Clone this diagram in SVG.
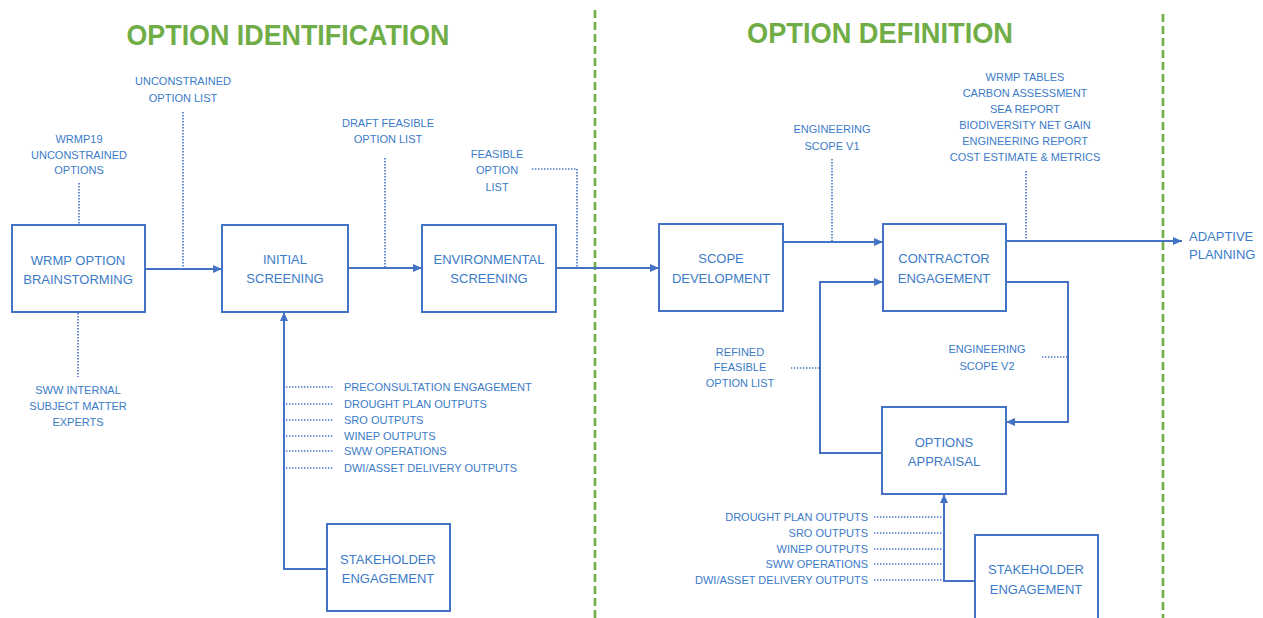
<svg xmlns="http://www.w3.org/2000/svg" width="1263" height="618" viewBox="0 0 1263 618">
  <defs>
    <marker id="arrow" markerUnits="userSpaceOnUse" markerWidth="9" markerHeight="8" refX="9" refY="4" orient="auto">
      <path d="M0,0 L9,4 L0,8 z" fill="#4472c4"/>
    </marker>
  </defs>
  <style>
    .box { fill: #ffffff; stroke: #4472c4; stroke-width: 2; }
    .link { fill: none; stroke: #4472c4; stroke-width: 2; }
    .dot { fill: none; stroke: #4472c4; stroke-width: 1.6; stroke-dasharray: 1.4 1.6; }
    .divider { fill: none; stroke: #70ad47; stroke-width: 2.6; stroke-dasharray: 8 4; }
    .title { font-family: "Liberation Sans", Arial, sans-serif; font-weight: bold; font-size: 30px; fill: #70ad47; text-anchor: middle; }
    .label { font-family: "Liberation Sans", Arial, sans-serif; font-size: 13px; fill: #3b7bc8; text-anchor: middle; }
    .note { font-family: "Liberation Sans", Arial, sans-serif; font-size: 11px; fill: #3b7bc8; text-anchor: middle; }
    .note-l { text-anchor: start; }
    .note-r { text-anchor: end; }
  </style>

  <rect width="1263" height="618" fill="#ffffff"/>

  <!-- phase dividers and headings -->
  <g id="phases">
    <path class="divider" d="M595,10 V618"/>
    <path class="divider" d="M1163,14 V618"/>
    <text class="title" x="288" y="45" textLength="323" lengthAdjust="spacingAndGlyphs">OPTION IDENTIFICATION</text>
    <text class="title" x="880" y="43" textLength="266" lengthAdjust="spacingAndGlyphs">OPTION DEFINITION</text>
  </g>

  <!-- connectors -->
  <g id="connectors">
    <path class="link" d="M145,269 H222" marker-end="url(#arrow)"/>
    <path class="link" d="M348,268 H422" marker-end="url(#arrow)"/>
    <path class="link" d="M556,268 H659" marker-end="url(#arrow)"/>
    <path class="link" d="M783,242 H883" marker-end="url(#arrow)"/>
    <path class="link" d="M1006,241 H1182" marker-end="url(#arrow)"/>
    <path class="link" d="M1006,282 H1068 V422 H1006" marker-end="url(#arrow)"/>
    <path class="link" d="M882,453 H820 V282 H883" marker-end="url(#arrow)"/>
    <path class="link" d="M327,569 H284 V312" marker-end="url(#arrow)"/>
    <path class="link" d="M975,581 H944 V494" marker-end="url(#arrow)"/>

    <!-- dotted information feeds -->
    <path class="dot" d="M79,183 V224"/>
    <path class="dot" d="M78,313 V377"/>
    <path class="dot" d="M183,112 V268"/>
    <path class="dot" d="M385,158 V267"/>
    <path class="dot" d="M532,169 H577 V267"/>
    <path class="dot" d="M832,159 V241"/>
    <path class="dot" d="M1026,171 V240"/>
    <path class="dot" d="M791,368 H819"/>
    <path class="dot" d="M1042,357 H1067"/>
    <path class="dot" d="M286,387 H333 M286,404 H333 M286,420 H333 M286,436 H333 M286,451 H333 M286,468 H333"/>
    <path class="dot" d="M874,517 H943 M874,533 H943 M874,549 H943 M874,564 H943 M874,580 H943"/>
  </g>

  <!-- process nodes -->
  <g id="brainstorming">
    <rect class="box" x="12" y="225" width="133" height="87"/>
    <text class="label" x="78" y="265">WRMP OPTION</text>
    <text class="label" x="78" y="284">BRAINSTORMING</text>
  </g>
  <g id="initial-screening">
    <rect class="box" x="222" y="225" width="126" height="87"/>
    <text class="label" x="285" y="264">INITIAL</text>
    <text class="label" x="285" y="283">SCREENING</text>
  </g>
  <g id="environmental-screening">
    <rect class="box" x="422" y="225" width="134" height="87"/>
    <text class="label" x="489" y="264">ENVIRONMENTAL</text>
    <text class="label" x="489" y="283">SCREENING</text>
  </g>
  <g id="scope-development">
    <rect class="box" x="659" y="224" width="124" height="87"/>
    <text class="label" x="721" y="263">SCOPE</text>
    <text class="label" x="721" y="283">DEVELOPMENT</text>
  </g>
  <g id="contractor-engagement">
    <rect class="box" x="883" y="224" width="123" height="87"/>
    <text class="label" x="944" y="263">CONTRACTOR</text>
    <text class="label" x="944" y="283">ENGAGEMENT</text>
  </g>
  <g id="options-appraisal">
    <rect class="box" x="882" y="407" width="124" height="87"/>
    <text class="label" x="944" y="447">OPTIONS</text>
    <text class="label" x="944" y="466">APPRAISAL</text>
  </g>
  <g id="stakeholder-engagement-1">
    <rect class="box" x="327" y="524" width="123" height="87"/>
    <text class="label" x="388" y="564">STAKEHOLDER</text>
    <text class="label" x="388" y="583">ENGAGEMENT</text>
  </g>
  <g id="stakeholder-engagement-2">
    <rect class="box" x="975" y="535" width="123" height="95"/>
    <text class="label" x="1036" y="574">STAKEHOLDER</text>
    <text class="label" x="1036" y="594">ENGAGEMENT</text>
  </g>
  <g id="adaptive-planning">
    <text class="label note-l" x="1189" y="241">ADAPTIVE</text>
    <text class="label note-l" x="1189" y="259">PLANNING</text>
  </g>

  <!-- inputs and outputs -->
  <g id="wrmp19-options">
    <text class="note" x="79" y="143">WRMP19</text>
    <text class="note" x="79" y="159">UNCONSTRAINED</text>
    <text class="note" x="79" y="174">OPTIONS</text>
  </g>
  <g id="internal-experts">
    <text class="note" x="78" y="394">SWW INTERNAL</text>
    <text class="note" x="78" y="410">SUBJECT MATTER</text>
    <text class="note" x="78" y="426">EXPERTS</text>
  </g>
  <g id="unconstrained-list">
    <text class="note" x="183" y="85">UNCONSTRAINED</text>
    <text class="note" x="183" y="102">OPTION LIST</text>
  </g>
  <g id="draft-feasible-list">
    <text class="note" x="388" y="127">DRAFT FEASIBLE</text>
    <text class="note" x="388" y="143">OPTION LIST</text>
  </g>
  <g id="feasible-list">
    <text class="note" x="497" y="158">FEASIBLE</text>
    <text class="note" x="497" y="174">OPTION</text>
    <text class="note" x="497" y="191">LIST</text>
  </g>
  <g id="screening-inputs">
    <text class="note note-l" x="344" y="391">PRECONSULTATION ENGAGEMENT</text>
    <text class="note note-l" x="344" y="408">DROUGHT PLAN OUTPUTS</text>
    <text class="note note-l" x="344" y="424">SRO OUTPUTS</text>
    <text class="note note-l" x="344" y="440">WINEP OUTPUTS</text>
    <text class="note note-l" x="344" y="455">SWW OPERATIONS</text>
    <text class="note note-l" x="344" y="472">DWI/ASSET DELIVERY OUTPUTS</text>
  </g>
  <g id="engineering-scope-v1">
    <text class="note" x="832" y="133">ENGINEERING</text>
    <text class="note" x="832" y="150">SCOPE V1</text>
  </g>
  <g id="contractor-outputs">
    <text class="note" x="1025" y="81">WRMP TABLES</text>
    <text class="note" x="1025" y="97">CARBON ASSESSMENT</text>
    <text class="note" x="1025" y="113">SEA REPORT</text>
    <text class="note" x="1025" y="129">BIODIVERSITY NET GAIN</text>
    <text class="note" x="1025" y="145">ENGINEERING REPORT</text>
    <text class="note" x="1025" y="161">COST ESTIMATE &amp; METRICS</text>
  </g>
  <g id="refined-list">
    <text class="note" x="740" y="356">REFINED</text>
    <text class="note" x="740" y="371">FEASIBLE</text>
    <text class="note" x="740" y="387">OPTION LIST</text>
  </g>
  <g id="engineering-scope-v2">
    <text class="note" x="987" y="353">ENGINEERING</text>
    <text class="note" x="987" y="370">SCOPE V2</text>
  </g>
  <g id="appraisal-inputs">
    <text class="note note-r" x="868" y="521">DROUGHT PLAN OUTPUTS</text>
    <text class="note note-r" x="868" y="537">SRO OUTPUTS</text>
    <text class="note note-r" x="868" y="553">WINEP OUTPUTS</text>
    <text class="note note-r" x="868" y="568">SWW OPERATIONS</text>
    <text class="note note-r" x="868" y="584">DWI/ASSET DELIVERY OUTPUTS</text>
  </g>
</svg>
